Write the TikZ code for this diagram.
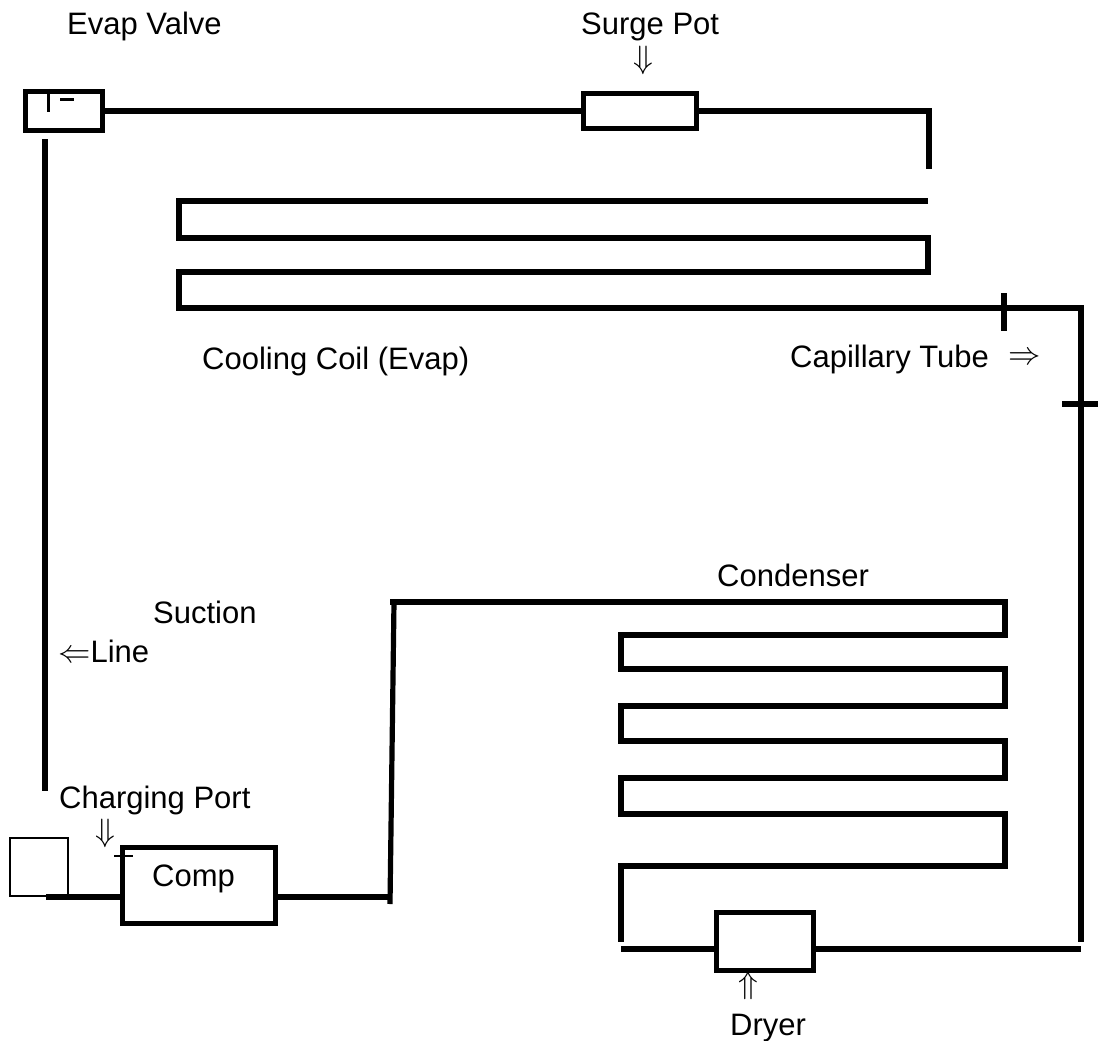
\documentclass[tikz,border=0pt]{standalone}
\usepackage{amsmath}
\usepackage{fontspec}
\setmainfont{Liberation Sans}

\begin{document}
\begin{tikzpicture}[
        x=1pt,
        y=-1pt,
        pipe/.style={line width=5.2pt},
        part/.style={draw, line width=5.2pt, inner sep=0pt},
        tick/.style={line width=3pt},
        sign/.style={scale=1.3, inner sep=0pt},
        every node/.style={font=\fontsize{31}{36}\selectfont}
    ]

        \useasboundingbox (0,0) rectangle (1098,1041);

        % Components
        \node[part, minimum width=77, minimum height=39] (valve) at (64,111) {};
        \node[part, minimum width=113, minimum height=35] (pot) at (640,111) {};
        \node[part, minimum width=153, minimum height=76] (comp) at (199,885.5) {};
        \node[part, minimum width=97, minimum height=58] (dryer) at (765,941.5) {};
        \node[draw, line width=1.5pt, inner sep=0pt, minimum width=58, minimum height=58] (port) at (39,867) {};

        % Free ends and corners
        \coordinate (potend) at (929,169);
        \coordinate (suctop) at (45,139);
        \coordinate (sucend) at (45,791);
        \coordinate (coilin) at (928,201);
        \coordinate (capcorner) at (1081,308);
        \coordinate (capend) at (1081,942);
        \coordinate (compin) at (46,897);
        \coordinate (compout) at (390,897);
        \coordinate (disctop) at (394,602);
        \coordinate (discend) at (390,904);
        \coordinate (condin) at (390,602);
        \coordinate (condout) at (621,942);
        \coordinate (dryerin) at (621,949);
        \coordinate (dryerout) at (1081,949);

        % Line through the surge pot
        \draw[pipe] (valve.east) -- (pot.west);
        \draw[pipe] (pot.east) -- (pot.east -| potend) -- (potend);

        % Suction line
        \draw[pipe] (suctop) -- (sucend);
        \draw[pipe] (compin) -- (compin -| comp.west);
        \draw[pipe] (compout -| comp.east) -- (compout);
        \draw[pipe] (disctop) -- (discend);

        % Cooling coil and capillary tube
        \draw[pipe] (coilin) -- (179,201) -- (179,238) -- (928,238) -- (928,272)
            -- (179,272) -- (179,308) -- (capcorner) -- (capend);

        % Condenser
        \draw[pipe] (condin) -- (1005,602) -- (1005,635) -- (621,635) -- (621,669)
            -- (1005,669) -- (1005,706) -- (621,706) -- (621,741)
            -- (1005,741) -- (1005,778) -- (621,778) -- (621,814)
            -- (1005,814) -- (1005,866) -- (621,866) -- (condout);

        % Dryer connections
        \draw[pipe] (dryerin) -- (dryerin -| dryer.west);
        \draw[pipe] (dryerout -| dryer.east) -- (dryerout);

        % Small marks
        \draw[tick] (48,89) -- (48,112);
        \draw[tick] (60,99) -- (74,99);
        \draw[line width=1.5pt] (114,856) -- (133,856);
        \draw[pipe] (1004,293) -- (1004,331);
        \draw[pipe] (1062,404) -- (1098,404);

        % Labels
        \node[anchor=base west, inner sep=0pt] (valvetext) at (67,35) {Evap Valve};
        \node[anchor=base west, inner sep=0pt] (pottext) at (581,35) {Surge Pot};
        \node[sign] (potarrow) at (643,60.5) {$\Downarrow$};
        \node[anchor=base west, inner sep=0pt] (coiltext) at (202,369) {Cooling Coil (Evap)};
        \node[anchor=base west, inner sep=0pt] (captext) at (790,367) {Capillary Tube};
        \node[sign] (caparrow) at (1025,359) {$\Rightarrow$};
        \node[anchor=base west, inner sep=0pt] (condtext) at (717,586.5) {Condenser};
        \node[anchor=base west, inner sep=0pt] (suctext) at (153,623) {Suction};
        \node[anchor=base west, inner sep=0pt] (linetext) at (58,662) {\scalebox{1.3}{$\Leftarrow$}Line};
        \node[anchor=base west, inner sep=0pt] (porttext) at (59,808) {Charging Port};
        \node[sign] (portarrow) at (105,833) {$\Downarrow$};
        \node[anchor=base west, inner sep=0pt] (comptext) at (152,886) {Comp};
        \node[sign] (dryerarrow) at (748.5,985.5) {$\Uparrow$};
        \node[anchor=base west, inner sep=0pt] (dryertext) at (730,1035) {Dryer};

    \end{tikzpicture}
\end{document}
